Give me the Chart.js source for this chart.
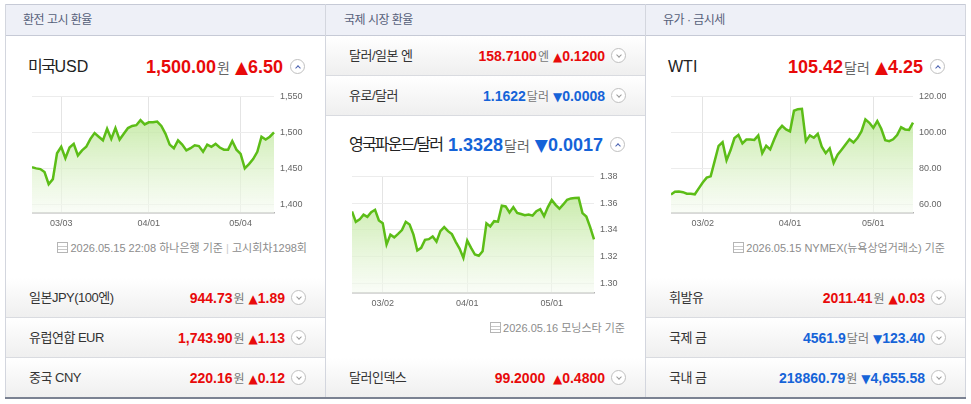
<!DOCTYPE html>
<html><head><meta charset="utf-8">
<script src="https://cdn.jsdelivr.net/npm/chart.js@4.4.1/dist/chart.umd.min.js"></script>
<style>
body{margin:0;background:#fff;width:971px;height:404px;overflow:hidden;font-family:"Liberation Sans","Noto Sans CJK KR",sans-serif;position:relative}
.a{position:absolute}
.vl{position:absolute;width:1px;background:#d3d6de;top:4px;height:394px}
.hdr{position:absolute;top:5px;height:30px;line-height:30px;font-size:12px;color:#56607a;letter-spacing:-0.5px}
.row{position:absolute;width:320px;height:39px;background:linear-gradient(#ffffff,#efefef);border-bottom:1px solid #d9dbe0}
.rl{position:absolute;left:24px;top:0;line-height:39px;font-size:13px;color:#333;letter-spacing:-0.5px;white-space:nowrap}
.rv{position:absolute;right:40px;top:0;line-height:39px;white-space:nowrap}
.num{font-family:"Liberation Sans",Arial,sans-serif;font-weight:bold;font-size:14px}
.big{font-family:"Liberation Sans",Arial,sans-serif;font-weight:bold;font-size:18px}
.u{font-size:12px;color:#777;font-family:"Noto Sans CJK KR",sans-serif;margin:0 4px 0 1px}
.ub{font-size:14px;color:#666;font-family:"Noto Sans CJK KR",sans-serif;margin:0 5px 0 1px}
.t{font-family:"DejaVu Sans",sans-serif;font-size:12px}
.tb{font-family:"DejaVu Sans",sans-serif;font-size:17px}
.red{color:#e80a0a}.blue{color:#1563d8}
.btn{position:absolute;width:13px;height:13px;border:1px solid #c0c0c0;border-radius:50%;background:#fff}
.btn::after{content:'';position:absolute;left:4.5px;top:3.5px;width:3px;height:3px;border-left:1px solid #9a9a9a;border-top:1px solid #9a9a9a;transform:rotate(225deg)}
.btn.up::after{transform:rotate(45deg);top:5.5px;border-color:#4a62b0}
.title{position:absolute;line-height:22px;font-size:16px;color:#222;white-space:nowrap}
.tv{position:absolute;line-height:22px;white-space:nowrap}
.ft{position:absolute;line-height:16px;font-size:11px;color:#8c8c8c;white-space:nowrap}
.ic{display:inline-block;width:9px;height:9px;border:1px solid #b5b5b5;margin-right:2px;vertical-align:-1px;background:linear-gradient(#fff 0 3px,#c8c8c8 3px 4px,#fff 4px 6px,#c8c8c8 6px 7px,#fff 7px)}
.cw{position:absolute;width:275px;height:147px}
</style></head>
<body>
<!-- frame -->
<div class="a" style="left:5px;top:4px;width:961px;height:1px;background:#c6cad6"></div>
<div class="a" style="left:5px;top:5px;width:961px;height:30px;background:#eef0f7"></div>
<div class="a" style="left:5px;top:35px;width:961px;height:1px;background:#c6cad6"></div>

<div class="hdr" style="left:23px">환전 고시 환율</div>
<div class="hdr" style="left:344px">국제 시장 환율</div>
<div class="hdr" style="left:663px">유가 · 금시세</div>

<!-- left panel -->
<div class="title" style="left:28px;top:56px"><span style="letter-spacing:-1.5px">미국</span>USD</div>
<div class="tv" style="right:688px;top:56px"><span class="big red">1,500.00</span><span class="ub">원</span><span class="tb red">▲</span><span class="big red">6.50</span></div>
<div class="btn up" style="left:290px;top:59px"></div>
<div class="cw" style="left:32px;top:85px"><canvas id="c1"></canvas></div>
<div class="ft" style="right:664px;top:240px"><span class="ic"></span>2026.05.15 22:08 하나은행 기준 <span style="color:#ccc">|</span> 고시회차1298회</div>

<div class="row" style="left:5px;top:278px"><div class="rl">일본JPY(100엔)</div><div class="rv"><span class="num red">944.73</span><span class="u">원</span><span class="t red">▲</span><span class="num red">1.89</span></div><div class="btn" style="left:286px;top:12px"></div></div>
<div class="row" style="left:5px;top:318px"><div class="rl">유럽연합 EUR</div><div class="rv"><span class="num red">1,743.90</span><span class="u">원</span><span class="t red">▲</span><span class="num red">1.13</span></div><div class="btn" style="left:286px;top:12px"></div></div>
<div class="row" style="left:5px;top:358px"><div class="rl">중국 CNY</div><div class="rv"><span class="num red">220.16</span><span class="u">원</span><span class="t red">▲</span><span class="num red">0.12</span></div><div class="btn" style="left:286px;top:12px"></div></div>

<!-- middle panel -->
<div class="row" style="left:325px;top:36px"><div class="rl">달러/일본 엔</div><div class="rv"><span class="num red">158.7100</span><span class="u">엔</span><span class="t red">▲</span><span class="num red">0.1200</span></div><div class="btn" style="left:286px;top:12px"></div></div>
<div class="row" style="left:325px;top:76px"><div class="rl">유로/달러</div><div class="rv"><span class="num blue">1.1622</span><span class="u">달러</span><span class="t blue">▼</span><span class="num blue">0.0008</span></div><div class="btn" style="left:286px;top:12px"></div></div>
<div class="title" style="left:349px;top:134px;letter-spacing:-1.8px">영국파운드/달러</div>
<div class="tv" style="right:368px;top:134px"><span class="big blue">1.3328</span><span class="ub">달러</span><span class="tb blue">▼</span><span class="big blue">0.0017</span></div>
<div class="btn up" style="left:610px;top:137px"></div>
<div class="cw" style="left:352px;top:165px"><canvas id="c2"></canvas></div>
<div class="ft" style="right:346px;top:320px"><span class="ic"></span>2026.05.16 모닝스타 기준</div>
<div class="row" style="left:325px;top:358px"><div class="rl">달러인덱스</div><div class="rv"><span class="num red">99.2000</span><span class="u"> </span><span class="t red">▲</span><span class="num red">0.4800</span></div><div class="btn" style="left:286px;top:12px"></div></div>

<!-- right panel -->
<div class="title" style="left:668px;top:56px">WTI</div>
<div class="tv" style="right:48px;top:56px"><span class="big red">105.42</span><span class="ub">달러</span><span class="tb red">▲</span><span class="big red">4.25</span></div>
<div class="btn up" style="left:930px;top:59px"></div>
<div class="cw" style="left:671px;top:85px"><canvas id="c3"></canvas></div>
<div class="ft" style="right:26px;top:240px"><span class="ic"></span>2026.05.15 NYMEX(뉴욕상업거래소) 기준</div>

<div class="row" style="left:645px;top:278px"><div class="rl">휘발유</div><div class="rv"><span class="num red">2011.41</span><span class="u">원</span><span class="t red">▲</span><span class="num red">0.03</span></div><div class="btn" style="left:286px;top:12px"></div></div>
<div class="row" style="left:645px;top:318px"><div class="rl">국제 금</div><div class="rv"><span class="num blue">4561.9</span><span class="u">달러</span><span class="t blue">▼</span><span class="num blue">123.40</span></div><div class="btn" style="left:286px;top:12px"></div></div>
<div class="row" style="left:645px;top:358px"><div class="rl">국내 금</div><div class="rv"><span class="num blue">218860.79</span><span class="u">원</span><span class="t blue">▼</span><span class="num blue">4,655.58</span></div><div class="btn" style="left:286px;top:12px"></div></div>

<div class="vl" style="left:5px"></div>
<div class="vl" style="left:325px"></div>
<div class="vl" style="left:645px"></div>
<div class="vl" style="left:965px"></div>
<div class="a" style="left:5px;top:397px;width:961px;height:2px;background:#7b8292"></div>

<script>
const usdLabels = ['02/19','02/20','02/23','02/24','02/25','02/26','02/27','03/03','03/04','03/05','03/06','03/09','03/10','03/11','03/12','03/13','03/16','03/17','03/18','03/19','03/20','03/23','03/24','03/25','03/26','03/27','03/30','03/31','04/01','04/02','04/03','04/06','04/07','04/08','04/09','04/10','04/13','04/14','04/15','04/16','04/17','04/20','04/21','04/22','04/23','04/24','04/27','04/28','04/29','04/30','05/04','05/06','05/07','05/08','05/11','05/12','05/13','05/14','05/15'];
const usdValues = [1451.5,1450,1449,1445,1428,1435,1471,1480,1464,1479,1484,1468,1475,1480,1491,1499,1494,1489,1505,1491,1506,1490,1498,1506,1509,1510,1517,1511,1514,1514,1515,1509,1498,1483,1478,1489,1483,1475,1478,1482,1481,1473,1483,1480,1484,1479,1476,1476,1488,1476,1470,1450,1456,1463,1473,1494,1490,1494,1500];
const usdXTicks = ['03/03','04/01','05/04'];
const usdYTicks = [1400,1450,1500,1550];

const gbpLabels = ['02/18','02/19','02/20','02/23','02/24','02/25','02/26','02/27','03/02','03/03','03/04','03/05','03/06','03/09','03/10','03/11','03/12','03/13','03/16','03/17','03/18','03/19','03/20','03/23','03/24','03/25','03/26','03/27','03/30','03/31','04/01','04/02','04/03','04/06','04/07','04/08','04/09','04/10','04/13','04/14','04/15','04/16','04/17','04/20','04/21','04/22','04/23','04/24','04/27','04/28','04/29','04/30','05/01','05/04','05/05','05/06','05/07','05/08','05/11','05/12','05/13','05/14','05/15','05/16'];
const gbpValues = [1.3538,1.3460,1.3478,1.3514,1.3497,1.3532,1.3550,1.3470,1.3450,1.3290,1.3364,1.3344,1.3370,1.3398,1.3460,1.3440,1.3364,1.3245,1.3265,1.3325,1.3330,1.3350,1.3312,1.3390,1.3420,1.3390,1.3368,1.3310,1.3260,1.3190,1.3320,1.3265,1.3215,1.3206,1.3240,1.3449,1.3426,1.3465,1.3461,1.3580,1.3575,1.3530,1.3570,1.3527,1.3518,1.3509,1.3515,1.3506,1.3540,1.3555,1.3502,1.3570,1.3623,1.3587,1.3558,1.3590,1.3625,1.3635,1.3638,1.3640,1.3525,1.3500,1.3420,1.3328];
const gbpXTicks = ['03/02','04/01','05/01'];
const gbpYTicks = [1.30,1.32,1.34,1.36,1.38];

const wtiLabels = ['02/18','02/19','02/20','02/23','02/24','02/25','02/26','02/27','03/02','03/03','03/04','03/05','03/06','03/09','03/10','03/11','03/12','03/13','03/16','03/17','03/18','03/19','03/20','03/23','03/24','03/25','03/26','03/27','03/30','03/31','04/01','04/02','04/06','04/07','04/08','04/09','04/10','04/13','04/14','04/15','04/16','04/17','04/20','04/21','04/22','04/23','04/24','04/27','04/28','04/29','04/30','05/01','05/04','05/05','05/06','05/07','05/08','05/11','05/12','05/13','05/14','05/15'];
const wtiValues = [65.4,66.9,67.1,66.7,65.8,65.8,65.5,68.8,72.1,74.8,75.5,84.0,92.5,94.5,84.5,90.0,96.8,98.5,93.8,96.0,96.0,95.8,98.3,88.4,92.5,90.5,96.0,101.0,103.6,101.6,100.5,112.0,112.9,113.1,95.1,98.3,97.0,99.2,92.0,88.4,91.1,83.0,87.5,90.3,93.2,96.1,94.3,96.8,100.5,107.2,105.3,102.5,106.3,102.0,95.6,95.1,96.1,98.5,102.8,101.6,101.4,105.42];
const wtiXTicks = ['03/02','04/01','05/01'];
const wtiYTicks = [60,80,100,120];

function makeChart(id, labels, values, xTicks, yTicks, yMin, yMax, fmt) {
  new Chart(document.getElementById(id), {
    type: 'line',
    data: { labels: labels, datasets: [{
      data: values, borderColor: '#5cbd17', borderWidth: 2.5, pointRadius: 0, tension: 0,
      fill: 'start',
      backgroundColor: (c) => {
        const ch = c.chart, area = ch.chartArea;
        if (!area) return 'rgba(0,0,0,0)';
        const g = ch.ctx.createLinearGradient(0, area.top, 0, area.bottom);
        g.addColorStop(0, 'rgba(176,226,132,0.85)');
        g.addColorStop(1, 'rgba(246,251,242,0.6)');
        return g;
      }
    }]},
    options: {
      animation: false, responsive: true, maintainAspectRatio: false,
      layout: { padding: { top: 8, left: 0, right: 0, bottom: 0 } },
      plugins: { legend: { display: false }, tooltip: { enabled: false } },
      scales: {
        x: {
          grid: { color: '#e4e4e4', drawTicks: false },
          border: { color: '#b3b3b3', width: 1.5 },
          ticks: { autoSkip: false, maxRotation: 0, padding: 5, color: '#666', font: { size: 9, family: 'Liberation Sans' } },
          afterBuildTicks: (axis) => { axis.ticks = axis.ticks.filter(t => xTicks.includes(labels[t.value])); },
          afterFit: (axis) => { axis.height = 19; }
        },
        y: {
          position: 'right', min: yMin, max: yMax,
          grid: { color: '#ececec', drawTicks: false },
          border: { display: false },
          ticks: { padding: 6, color: '#666', font: { size: 9, family: 'Liberation Sans' }, callback: (v) => fmt(v) },
          afterBuildTicks: (axis) => { axis.ticks = yTicks.map(v => ({ value: v })); },
          afterFit: (axis) => { axis.width = 33; }
        }
      }
    }
  });
}
makeChart('c1', usdLabels, usdValues, usdXTicks, usdYTicks, 1388, 1550, v => v.toLocaleString('en-US'));
makeChart('c2', gbpLabels, gbpValues, gbpXTicks, gbpYTicks, 1.2927, 1.38, v => v.toFixed(2));
makeChart('c3', wtiLabels, wtiValues, wtiXTicks, wtiYTicks, 55.1, 120, v => v.toFixed(2));
</script>
</body></html>
